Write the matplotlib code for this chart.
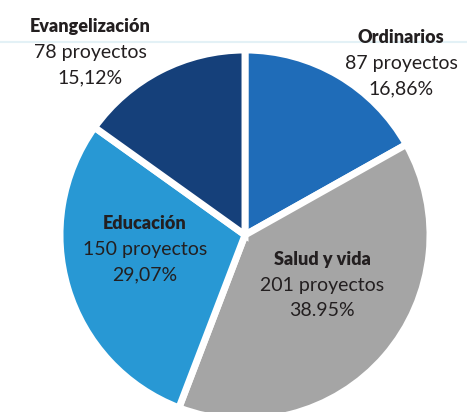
import matplotlib
matplotlib.use("Agg")
import matplotlib.pyplot as plt

# data (clockwise from 12 o'clock)
categories = ["Ordinarios", "Salud y vida", "Educación", "Evangelización"]
projects = [87, 201, 150, 78]
pct_labels = ["16,86%", "38.95%", "29,07%", "15,12%"]
colors = ["#1f6cb8", "#a5a5a5", "#2898d4", "#15407a"]

# label anchor (x centre, first baseline) in image pixels, top-left origin
label_pos = [(401, 43), (322, 265), (145, 229), (90, 32)]

W, H = 467, 412
fig = plt.figure(figsize=(W / 100, H / 100), dpi=100)
ax = fig.add_axes([0, 0, 1, 1])

# faint rule behind the chart
ax.axhline(H - 42, color="#e3f1f6", lw=1.5, zorder=0)

ax.pie(projects, colors=colors, startangle=90, counterclock=False,
       center=(245, H - 235), radius=185, frame=True,
       wedgeprops=dict(edgecolor="white", linewidth=5))
ax.set_xlim(0, W)
ax.set_ylim(0, H)
ax.set_aspect("equal")
ax.axis("off")

font = "Lato"
txt_color = "#231f20"
step = 25.5
for cat, n, pct, (x, y) in zip(categories, projects, pct_labels, label_pos):
    ax.text(x, H - y, cat, ha="center", va="baseline", fontsize=13,
            fontweight="heavy", family=font, color=txt_color)
    ax.text(x, H - y - step, f"{n} proyectos", ha="center", va="baseline",
            fontsize=14, family=font, color=txt_color)
    ax.text(x, H - y - 2 * step, pct, ha="center", va="baseline",
            fontsize=14, family=font, color=txt_color)

fig.savefig("out.png", dpi=100)
